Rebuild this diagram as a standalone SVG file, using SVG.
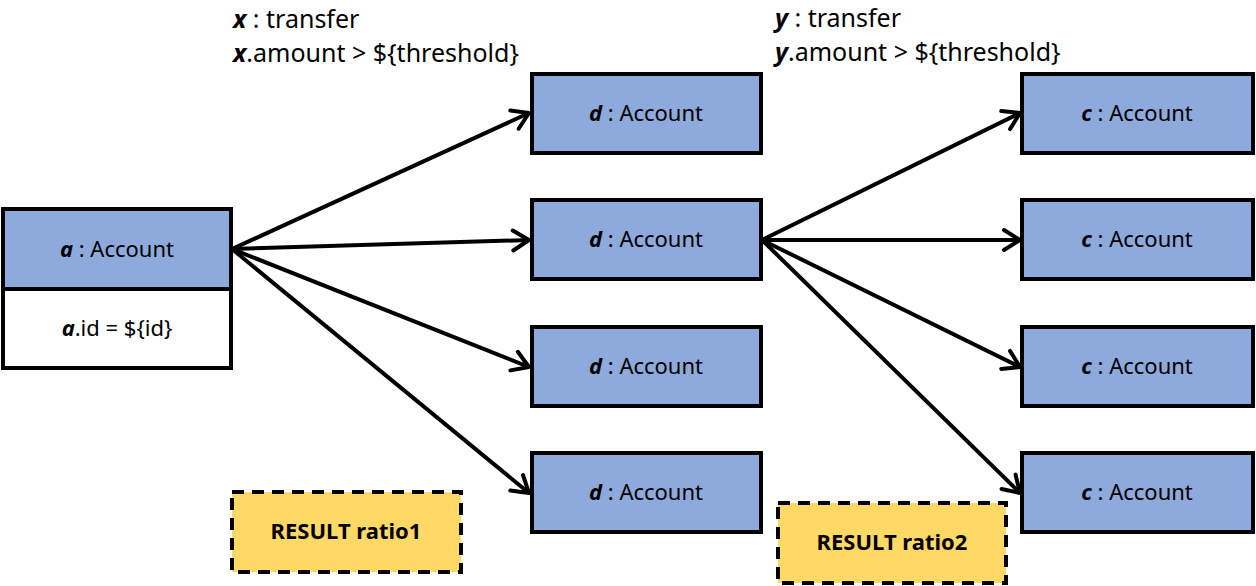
<svg xmlns="http://www.w3.org/2000/svg" width="1256" height="586" viewBox="0 0 1256 586">
<defs>
<marker id="arr" markerUnits="userSpaceOnUse" viewBox="0 0 22 26" refX="19" refY="13" markerWidth="22" markerHeight="26" orient="auto">
<path d="M3,3 L19,13 L3,23" fill="none" stroke="#000" stroke-width="4" stroke-linecap="round" stroke-linejoin="round"/>
</marker>
<style>
.n{fill:#8EA9DB;stroke:#000;stroke-width:4}
.w{fill:#fff;stroke:#000;stroke-width:4}
.r{fill:#FFD966;stroke:#000;stroke-width:4;stroke-dasharray:12 8}
.t{font-family:"Noto Sans","Liberation Sans",sans-serif;font-size:22px;fill:#000}
.h{font-family:"Noto Sans","Liberation Sans",sans-serif;font-size:25px;fill:#000}
.b{font-weight:bold;font-style:italic}
.rt{font-family:"Noto Sans","Liberation Sans",sans-serif;font-size:22px;font-weight:bold;fill:#000}
.e{stroke:#000;stroke-width:4;fill:none;marker-end:url(#arr)}
</style>
</defs>
<g id="labels">
<text class="h" x="233" y="28"><tspan class="b">x</tspan> : transfer</text>
<text class="h" x="233" y="62"><tspan class="b">x</tspan>.amount &gt; ${threshold}</text>
<text class="h" x="775" y="27"><tspan class="b">y</tspan> : transfer</text>
<text class="h" x="775" y="61"><tspan class="b">y</tspan>.amount &gt; ${threshold}</text>
</g>
<g id="connectors">
<line class="e" x1="232" y1="249" x2="529" y2="113"/>
<line class="e" x1="232" y1="249" x2="529" y2="240"/>
<line class="e" x1="232" y1="249" x2="529" y2="367"/>
<line class="e" x1="232" y1="249" x2="529" y2="493"/>
<line class="e" x1="762" y1="240" x2="1020" y2="113"/>
<line class="e" x1="762" y1="240" x2="1020" y2="240"/>
<line class="e" x1="762" y1="240" x2="1020" y2="367"/>
<line class="e" x1="762" y1="240" x2="1020" y2="493"/>
</g>
<g id="a">
<rect class="n" x="3" y="209" width="228" height="80"/>
<rect class="w" x="3" y="289" width="228" height="79"/>
<text class="t" x="117" y="257" text-anchor="middle"><tspan class="b">a</tspan> : Account</text>
<text class="t" x="117" y="336" text-anchor="middle"><tspan class="b">a</tspan>.id = ${id}</text>
</g>
<g id="d1"><rect class="n" x="532" y="74" width="229" height="79"/><text class="t" x="646" y="121" text-anchor="middle"><tspan class="b">d</tspan> : Account</text></g>
<g id="d2"><rect class="n" x="532" y="200" width="229" height="79"/><text class="t" x="646" y="247" text-anchor="middle"><tspan class="b">d</tspan> : Account</text></g>
<g id="d3"><rect class="n" x="532" y="327" width="229" height="79"/><text class="t" x="646" y="374" text-anchor="middle"><tspan class="b">d</tspan> : Account</text></g>
<g id="d4"><rect class="n" x="532" y="453" width="229" height="79"/><text class="t" x="646" y="500" text-anchor="middle"><tspan class="b">d</tspan> : Account</text></g>
<g id="c1"><rect class="n" x="1022" y="74" width="231" height="79"/><text class="t" x="1137" y="121" text-anchor="middle"><tspan class="b">c</tspan> : Account</text></g>
<g id="c2"><rect class="n" x="1022" y="200" width="231" height="79"/><text class="t" x="1137" y="247" text-anchor="middle"><tspan class="b">c</tspan> : Account</text></g>
<g id="c3"><rect class="n" x="1022" y="327" width="231" height="79"/><text class="t" x="1137" y="374" text-anchor="middle"><tspan class="b">c</tspan> : Account</text></g>
<g id="c4"><rect class="n" x="1022" y="453" width="231" height="79"/><text class="t" x="1137" y="500" text-anchor="middle"><tspan class="b">c</tspan> : Account</text></g>
<g id="ratio1"><rect class="r" x="232" y="492" width="229" height="80"/><text class="rt" x="346" y="539" text-anchor="middle">RESULT ratio1</text></g>
<g id="ratio2"><rect class="r" x="778" y="503" width="228" height="80"/><text class="rt" x="892" y="550" text-anchor="middle">RESULT ratio2</text></g>
</svg>
